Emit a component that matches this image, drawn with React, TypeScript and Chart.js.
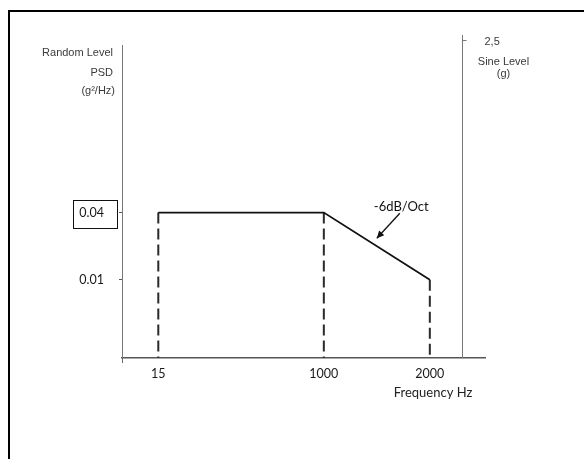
import React, { useEffect, useRef } from 'react';
import { Chart, registerables } from 'chart.js';

Chart.register(...registerables);

// ---- data ----
const freqLabels = ['15', '1000', '2000'];
const freqPositions = [10.0, 55.6, 84.8]; // schematic (not to scale) positions on the frequency axis
const psdLevels = [0.04, 0.04, 0.01];
const psdTicks = [0.01, 0.04];
const psdTickLabels = ['0.01', '0.04'];
const boxedTick = 0.04;
const xMin = 0;
const xMax = 100;
const yMin = 0.002;
const yMax = 1.26;
const sineAxisPos = 93.6;
const sineTickLabel = '2,5';
const slopeLabel = '-6dB/Oct';
const xTitle = 'Frequency Hz';
const leftTitle = ['Random Level', 'PSD', '(g²/Hz)'];
const rightTitle = ['Sine Level', '(g)'];

const W = 584;
const H = 459;

const decorPlugin = {
  id: 'decor',
  afterDraw(chart: any) {
    const { ctx, chartArea } = chart;
    const xs = chart.scales.x;
    const ys = chart.scales.y;
    ctx.save();

    // small extension of the PSD axis below the frequency axis
    const lx = Math.round(chartArea.left) + 0.5;
    ctx.strokeStyle = '#666';
    ctx.lineWidth = 1;
    ctx.beginPath();
    ctx.moveTo(lx, chartArea.bottom);
    ctx.lineTo(lx, chartArea.bottom + 5);
    ctx.stroke();

    // box around boxed tick label
    const by = Math.round(ys.getPixelForValue(boxedTick));
    ctx.strokeStyle = '#111';
    ctx.lineWidth = 1;
    ctx.strokeRect(73.5, by - 12.5, 44, 28);

    // left axis title
    ctx.fillStyle = '#3a3a3a';
    ctx.font = '11px "Liberation Sans", Arial, sans-serif';
    ctx.textAlign = 'right';
    ctx.textBaseline = 'middle';
    ctx.fillText(leftTitle[0], 113, 53);
    ctx.fillText(leftTitle[1], 113, 73);
    ctx.fillText(leftTitle[2], 115, 91);

    // sine level axis
    const sx = Math.round(xs.getPixelForValue(sineAxisPos)) + 0.5;
    ctx.strokeStyle = '#777';
    ctx.lineWidth = 1;
    ctx.beginPath();
    ctx.moveTo(sx, 35);
    ctx.lineTo(sx, chartArea.bottom);
    ctx.moveTo(sx, 40.5);
    ctx.lineTo(sx + 4, 40.5);
    ctx.stroke();
    ctx.textAlign = 'left';
    ctx.fillText(sineTickLabel, sx + 22, 42);
    ctx.textAlign = 'center';
    ctx.fillText(rightTitle[0], sx + 41, 62);
    ctx.fillText(rightTitle[1], sx + 41, 74);

    // slope annotation with arrow
    const p1x = xs.getPixelForValue(freqPositions[1]);
    const p1y = ys.getPixelForValue(psdLevels[1]);
    const p2x = xs.getPixelForValue(freqPositions[2]);
    const p2y = ys.getPixelForValue(psdLevels[2]);
    const tipX = (p1x + p2x) / 2;
    const tipY = (p1y + p2y) / 2 - 8;
    const tailX = tipX + 23;
    const tailY = tipY - 25;
    ctx.strokeStyle = '#111';
    ctx.fillStyle = '#111';
    ctx.lineWidth = 1.3;
    ctx.beginPath();
    ctx.moveTo(tailX, tailY);
    ctx.lineTo(tipX, tipY);
    ctx.stroke();
    const ang = Math.atan2(tipY - tailY, tipX - tailX);
    const hl = 8;
    const hw = 0.45;
    ctx.beginPath();
    ctx.moveTo(tipX, tipY);
    ctx.lineTo(tipX - hl * Math.cos(ang - hw), tipY - hl * Math.sin(ang - hw));
    ctx.lineTo(tipX - hl * Math.cos(ang + hw), tipY - hl * Math.sin(ang + hw));
    ctx.closePath();
    ctx.fill();
    ctx.font = '13px Lato, sans-serif';
    ctx.textAlign = 'left';
    ctx.textBaseline = 'middle';
    ctx.fillStyle = '#111';
    ctx.fillText(slopeLabel, tipX - 3, tailY - 6);

    // x axis title
    ctx.font = '13px Lato, sans-serif';
    ctx.textAlign = 'center';
    ctx.fillStyle = '#222';
    ctx.fillText(xTitle, 433, 393);

    ctx.restore();
  },
};

export default function App() {
  const ref = useRef<HTMLCanvasElement | null>(null);

  useEffect(() => {
    if (!ref.current) return;
    const profile = freqPositions.map((x, i) => ({ x, y: psdLevels[i] }));
    const verticals = freqPositions.map((x, i) => ({
      data: [
        { x, y: psdLevels[i] },
        { x, y: yMin },
      ],
      borderColor: '#2a2a2a',
      borderWidth: 2,
      borderDash: [11, 5],
      pointRadius: 0,
      fill: false,
    }));

    const chart = new Chart(ref.current, {
      type: 'line',
      data: {
        datasets: [
          {
            data: profile,
            borderColor: '#111',
            borderWidth: 1.8,
            pointRadius: 0,
            fill: false,
            tension: 0,
          },
          ...verticals,
        ],
      },
      options: {
        animation: false,
        responsive: false,
        devicePixelRatio: 1,
        layout: { padding: { left: 0, top: 45, right: W - 485, bottom: 0 } },
        plugins: {
          legend: { display: false },
          tooltip: { enabled: false },
        },
        scales: {
          x: {
            type: 'linear',
            min: xMin,
            max: xMax,
            afterFit: (s: any) => {
              s.height = H - 358;
            },
            afterBuildTicks: (s: any) => {
              s.ticks = freqPositions.map((v) => ({ value: v }));
            },
            ticks: {
              autoSkip: false,
              maxRotation: 0,
              padding: 8,
              color: '#1a1a1a',
              font: { family: 'Lato', size: 12.5 },
              callback: (v: any) => {
                const i = freqPositions.indexOf(Number(v));
                return i >= 0 ? freqLabels[i] : '';
              },
            },
            grid: { display: true, drawOnChartArea: false, drawTicks: false },
            border: { display: true, color: '#555', width: 1.5 },
          },
          y: {
            type: 'logarithmic',
            min: yMin,
            max: yMax,
            afterFit: (s: any) => {
              s.width = 122;
            },
            afterBuildTicks: (s: any) => {
              s.ticks = psdTicks.map((v) => ({ value: v }));
            },
            ticks: {
              autoSkip: false,
              padding: 15,
              color: '#1a1a1a',
              font: { family: 'Lato', size: 12.5 },
              callback: (v: any) => {
                const i = psdTicks.indexOf(Number(v));
                return i >= 0 ? psdTickLabels[i] : '';
              },
            },
            grid: {
              display: true,
              drawOnChartArea: false,
              drawTicks: true,
              tickLength: 3,
              color: '#555',
            },
            border: { display: true, color: '#777', width: 1 },
          },
        },
      },
      plugins: [decorPlugin],
    } as any);

    return () => chart.destroy();
  }, []);

  return (
    <div>
      <div
        style={{
          position: 'absolute',
          left: 8,
          top: 10,
          width: W - 8,
          height: H - 10,
          boxSizing: 'border-box',
          borderTop: '2px solid #000',
          borderLeft: '2px solid #000',
        }}
      />
      <canvas
        ref={ref}
        width={W}
        height={H}
        style={{ position: 'absolute', left: 0, top: 0, width: W, height: H, display: 'block' }}
      />
    </div>
  );
}
